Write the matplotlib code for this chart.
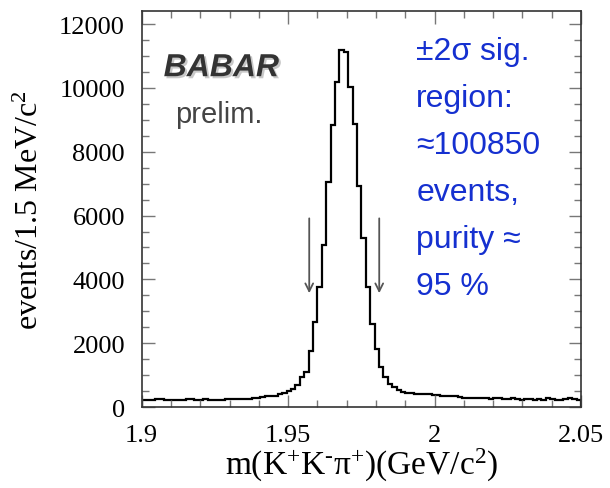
import numpy as np
import matplotlib.pyplot as plt
import matplotlib.patheffects as pe
from matplotlib.ticker import MultipleLocator

# histogram: 100 bins of 1.5 MeV from 1.9 to 2.05 GeV
mass_lo = 1.9
mass_hi = 2.05
counts = [
    230, 230, 235, 250, 245, 225, 215, 230, 235, 230,
    245, 240, 215, 235, 240, 225, 230, 215, 235, 250,
    250, 250, 250, 250, 260, 290, 295, 320, 330, 340,
    360, 405, 455, 500, 580, 700, 930, 1086, 1765, 2653,
    3750, 5075, 7059, 8835, 10192, 11195, 11132, 10015, 8866, 6934,
    5284, 3770, 2600, 1817, 1243, 950, 720, 616, 543, 480,
    439, 439, 407, 407, 420, 407, 376, 376, 355, 355,
    334, 334, 313, 271, 292, 271, 292, 271, 271, 251,
    271, 271, 251, 251, 271, 251, 230, 251, 251, 230,
    251, 230, 271, 251, 230, 209, 251, 271, 251, 230,
]

# +-2 sigma signal window arrows
arrow_x = [1.9572, 1.9811]
arrow_top = 6000
arrow_tip = 3480

info_lines = ["±2σ sig.", "region:", "≈100850", "events,", "purity ≈", "95 %"]

edges = np.linspace(mass_lo, mass_hi, len(counts) + 1)

plt.rcParams['mathtext.fontset'] = 'custom'
plt.rcParams['mathtext.rm'] = 'Liberation Serif'
plt.rcParams['mathtext.it'] = 'Liberation Serif:italic'

fig = plt.figure(figsize=(6.1, 4.89), dpi=100)
ax = fig.add_axes([0.2323, 0.1656, 0.7202, 0.8104])

ax.stairs(counts, edges, color='black', linewidth=1.6)

for xa in arrow_x:
    ax.annotate('', xy=(xa, arrow_tip), xytext=(xa, arrow_top),
                arrowprops=dict(arrowstyle='->', color='#555555', lw=1.3,
                                mutation_scale=14))

ax.set_xlim(mass_lo, mass_hi)
ax.set_ylim(0, 12420)

ax.xaxis.set_minor_locator(MultipleLocator(0.01))
ax.yaxis.set_major_locator(MultipleLocator(2000))
ax.yaxis.set_minor_locator(MultipleLocator(500))
ax.set_xticks([1.9, 1.95, 2.0, 2.05])
ax.set_xticklabels(['1.9', '1.95', '2', '2.05'])

ax.tick_params(which='both', direction='in', top=True, right=True,
               color='#777777', labelsize=19)
ax.tick_params(axis='x', pad=12)
ax.tick_params(axis='y', pad=12)
ax.tick_params(which='major', length=9, width=1)
ax.tick_params(which='minor', length=5, width=1)
for lab in ax.get_xticklabels() + ax.get_yticklabels():
    lab.set_family('Liberation Serif')
for sp in ax.spines.values():
    sp.set_color('#333333')
    sp.set_linewidth(1.2)

ax.set_xlabel(r'm(K$^{+}$K$^{\text{-}}$π$^{+}$)(GeV/c$^{2}$)',
              family='Liberation Serif', fontsize=24, labelpad=0)
ax.set_ylabel('events/1.5 MeV/c$^{2}$', family='Liberation Serif',
              fontsize=23, labelpad=10)

# BABAR logo
ax.text(0.05, 0.855, 'BABAR', transform=ax.transAxes, fontsize=23,
        fontweight='bold', style='italic', family='Liberation Sans',
        color='#333333', va='center',
        path_effects=[pe.withSimplePatchShadow(offset=(1.5, -1.5),
                                               shadow_rgbFace='#bbbbbb',
                                               alpha=0.8)])
ax.text(0.075, 0.739, 'prelim.', transform=ax.transAxes, fontsize=21,
        family='Liberation Sans', color='#444444', va='center')

# signal region info
for i, line in enumerate(info_lines):
    ax.text(0.625, 0.898 - i * 0.1186, line, transform=ax.transAxes,
            fontsize=23, family='Liberation Sans', color='#1530d0',
            va='center', ha='left')

fig.savefig('out.png', dpi=100)
